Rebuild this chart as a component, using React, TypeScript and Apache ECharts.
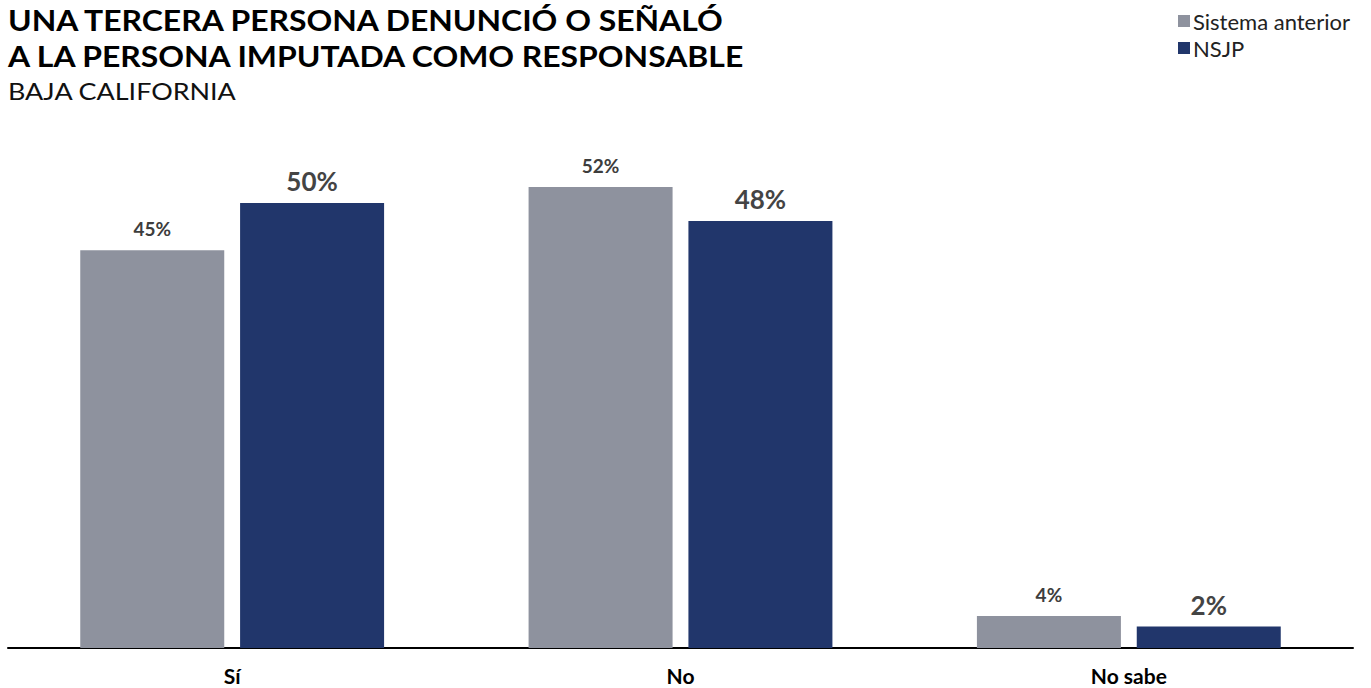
import React, { useEffect, useRef } from "react";
import * as echarts from "echarts";

const categories = ["Sí", "No", "No sabe"];
const seriesNames = ["Sistema anterior", "NSJP"];
const sistemaAnterior = [44.6, 51.7, 3.6];
const nsjp = [49.9, 47.9, 2.4];
const colors = ["#8E929E", "#21366B"];
const titleLines = ["UNA TERCERA PERSONA DENUNCIÓ O SEÑALÓ", "A LA PERSONA IMPUTADA COMO RESPONSABLE"];
const subtitleText = "BAJA CALIFORNIA";

export default function App() {
  const ref = useRef<HTMLDivElement>(null);
  useEffect(() => {
    if (!ref.current) return;
    const chart = echarts.init(ref.current, undefined, { renderer: "svg" });
    const font = "Lato, 'Open Sans', sans-serif";
    const titleFont = "bold 29px Lato, 'Open Sans', sans-serif";
    chart.setOption({
      animation: false,
      backgroundColor: "#ffffff",
      textStyle: { fontFamily: font },
      graphic: [
        {
          type: "text",
          x: 8,
          y: 20,
          scaleX: 1.1,
          style: { text: titleLines[0], x: 0, y: 0, font: titleFont, fill: "#000", textVerticalAlign: "middle" },
        },
        {
          type: "text",
          x: 8,
          y: 56,
          scaleX: 1.1,
          style: { text: titleLines[1], x: 0, y: 0, font: titleFont, fill: "#000", textVerticalAlign: "middle" },
        },
        {
          type: "text",
          x: 8,
          y: 91,
          scaleX: 1.17,
          style: {
            text: subtitleText,
            x: 0,
            y: 0,
            font: "normal 23px Lato, 'Open Sans', sans-serif",
            fill: "#111",
            textVerticalAlign: "middle",
          },
        },
      ],
      legend: {
        data: seriesNames,
        orient: "vertical",
        right: 16,
        top: 5,
        itemWidth: 12,
        itemHeight: 12,
        itemGap: 5,
        icon: "rect",
        textStyle: { fontFamily: font, fontSize: 22, color: "#222", padding: [0, 0, 0, -2] },
      },
      grid: { left: 8, right: 18, top: 113, bottom: 40, containLabel: false },
      xAxis: {
        type: "category",
        data: categories,
        axisLine: { lineStyle: { color: "#000", width: 2 } },
        axisTick: { show: false },
        axisLabel: {
          margin: 17,
          fontFamily: font,
          fontSize: 21,
          lineHeight: 20,
          fontWeight: "bold",
          color: "#000",
        },
      },
      yAxis: { type: "value", min: 0, max: 60, show: false, splitLine: { show: false } },
      series: [
        {
          name: seriesNames[0],
          type: "bar",
          data: sistemaAnterior,
          barWidth: 144,
          barGap: "11%",
          itemStyle: { color: colors[0] },
          label: {
            show: true,
            position: "top",
            distance: 12,
            formatter: (p: any) => Math.round(p.value) + "%",
            fontFamily: font,
            fontSize: 19,
            fontWeight: "bold",
            color: "#3d3d3d",
          },
        },
        {
          name: seriesNames[1],
          type: "bar",
          data: nsjp,
          barWidth: 144,
          itemStyle: { color: colors[1] },
          label: {
            show: true,
            position: "top",
            distance: 9,
            formatter: (p: any) => Math.round(p.value) + "%",
            fontFamily: font,
            fontSize: 26,
            fontWeight: "bold",
            color: "#444",
          },
        },
      ],
    });
    return () => chart.dispose();
  }, []);
  return (
    <div
      ref={ref}
      style={{ position: "fixed", left: 0, top: 0, width: 1371, height: 688 }}
    />
  );
}
